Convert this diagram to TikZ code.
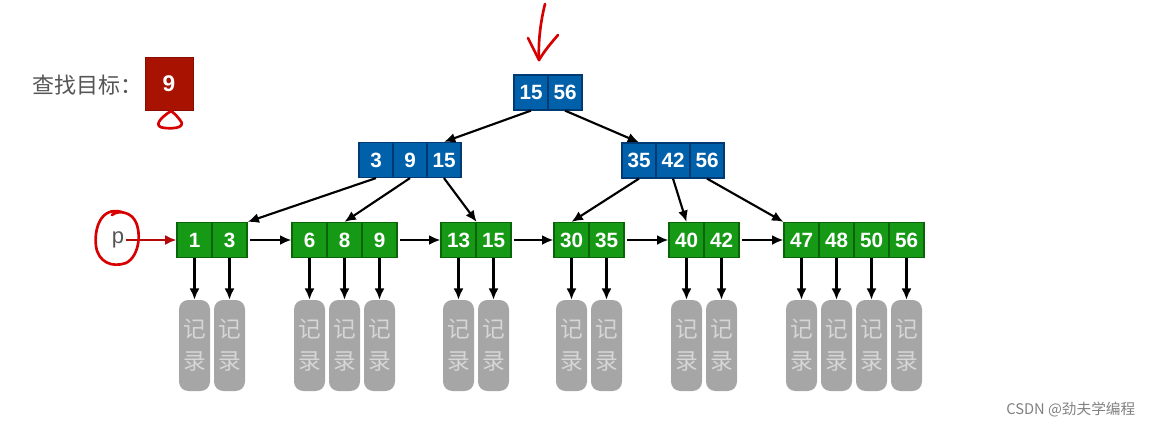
\documentclass[tikz,border=0pt]{standalone}
\usepackage{fontspec}
\setmainfont{Liberation Sans}
\newfontfamily\cjkfont{Noto Sans CJK SC}
\usetikzlibrary{arrows.meta}
\definecolor{nodeblue}{RGB}{0,96,170}
\definecolor{blueedge}{RGB}{0,58,115}
\definecolor{nodegreen}{RGB}{22,154,22}
\definecolor{greenedge}{RGB}{10,100,10}
\definecolor{recgray}{RGB}{166,166,166}
\definecolor{rectext}{RGB}{214,214,214}
\definecolor{labelgray}{RGB}{85,85,85}
\definecolor{targetred}{RGB}{168,18,0}
\definecolor{inkred}{RGB}{215,0,0}
\definecolor{arrowred}{RGB}{180,10,10}

\begin{document}
\begin{tikzpicture}[x=0.75pt,y=0.75pt,yscale=-1,xscale=1,
	bcell/.style={draw=blueedge, fill=nodeblue, line width=0.9pt, minimum width=25.5pt, minimum height=26.25pt, inner sep=0pt, text=white, font=\fontsize{15.5}{15.5}\selectfont\bfseries},
	gcell/.style={bcell, draw=greenedge, fill=nodegreen, minimum width=26.25pt},
	rec/.style={fill=recgray, rounded corners=7pt, minimum width=23.25pt, minimum height=68.25pt, inner sep=0pt, text=rectext, font=\cjkfont\fontsize{17}{24}\selectfont, align=center},
	ptr/.style={line width=1.6pt, -{Latex[length=8.5pt,width=7.5pt]}},
	ink/.style={draw=inkred, line width=2pt, line cap=round, line join=round}]
	\useasboundingbox (0,0) rectangle (1154,429);

	% search target
	\node[anchor=west, text=labelgray, font=\cjkfont\fontsize{16.5}{16.5}\selectfont] (goal) at (28,85) {查找目标：};
	\node[fill=targetred, draw=targetred!80!black, minimum width=36pt, minimum height=39.75pt, inner sep=0pt, text=white, font=\fontsize{17}{17}\selectfont\bfseries] (target) at (169,83.5) {9};

	% root and inner nodes
	\foreach \k [count=\i] in {15,56}
		\node[bcell] (r\i) at ({514+17+(\i-1)*34},92.5) {\k};
	\foreach \k [count=\i] in {3,9,15}
		\node[bcell] (L\i) at ({359+17+(\i-1)*34},160) {\k};
	\foreach \k [count=\i] in {35,42,56}
		\node[bcell] (R\i) at ({622+17+(\i-1)*34},160.5) {\k};

	% leaves with their records
	\foreach \nm/\lx/\keys in {a/177/{1,3},b/292/{6,8,9},c/441/{13,15},d/554/{30,35},e/669/{40,42},f/784/{47,48,50,56}}{
		\foreach \k [count=\i] in \keys {
			\node[gcell] (\nm\i) at ({\lx+17.5+(\i-1)*35},240) {\k};
			\node[rec] (rec\nm\i) at ({\lx+17.5+(\i-1)*35},345.5) {记\\录};
			\draw[ptr] (\nm\i) -- (rec\nm\i);
		}
	}

	% tree pointers
	\draw[ptr] (r1.south) -- (L3.north);
	\draw[ptr] (r2.south) -- (R1.north);
	\draw[ptr] (L1.south) -- (a2.north east);
	\draw[ptr] (L2.south) -- (b2.north);
	\draw[ptr] (L3.south) -- (c1.north east);
	\draw[ptr] (R1.south) -- (d1.north);
	\draw[ptr] (R2.south) -- (e1.north);
	\draw[ptr] (R3.south) -- (f1.north west);

	% leaf links
	\draw[ptr, shorten <=2pt] (a2.east) -- (b1.west);
	\draw[ptr, shorten <=2pt] (b3.east) -- (c1.west);
	\draw[ptr, shorten <=2pt] (c2.east) -- (d1.west);
	\draw[ptr, shorten <=2pt] (d2.east) -- (e1.west);
	\draw[ptr, shorten <=2pt] (e2.east) -- (f1.west);

	% pointer p
	\node[text=labelgray, font=\fontsize{16.5}{16.5}\selectfont, inner sep=1pt] (p) at (118,240) {p};
	\draw[ptr, color=arrowred, line width=1.4pt] (p.east) -- (a1.west);

	% hand drawn marks
	\draw[ink] (122,212) .. controls (100,206) and (94,230) .. (96,246) .. controls (98,262) and (112,268) .. (126,263) .. controls (140,256) and (142,230) .. (134,219) .. controls (129,212) and (118,210) .. (112,215);
	\draw[ink] (545,4) .. controls (541,20) and (538,40) .. (539,60);
	\draw[ink] (528,38) .. controls (532,46) and (536,54) .. (539,60) .. controls (545,50) and (552,42) .. (558,35);
	\draw[ink] (171,111) .. controls (160,118) and (152,127) .. (165,128) .. controls (176,129) and (186,127) .. (180,120) .. controls (177,116) and (174,113) .. (171,111);

	% watermark
	\node[anchor=east, text=gray, font=\cjkfont\fontsize{11}{11}\selectfont] (mark) at (1140,410) {CSDN @劲夫学编程};
\end{tikzpicture}
\end{document}
